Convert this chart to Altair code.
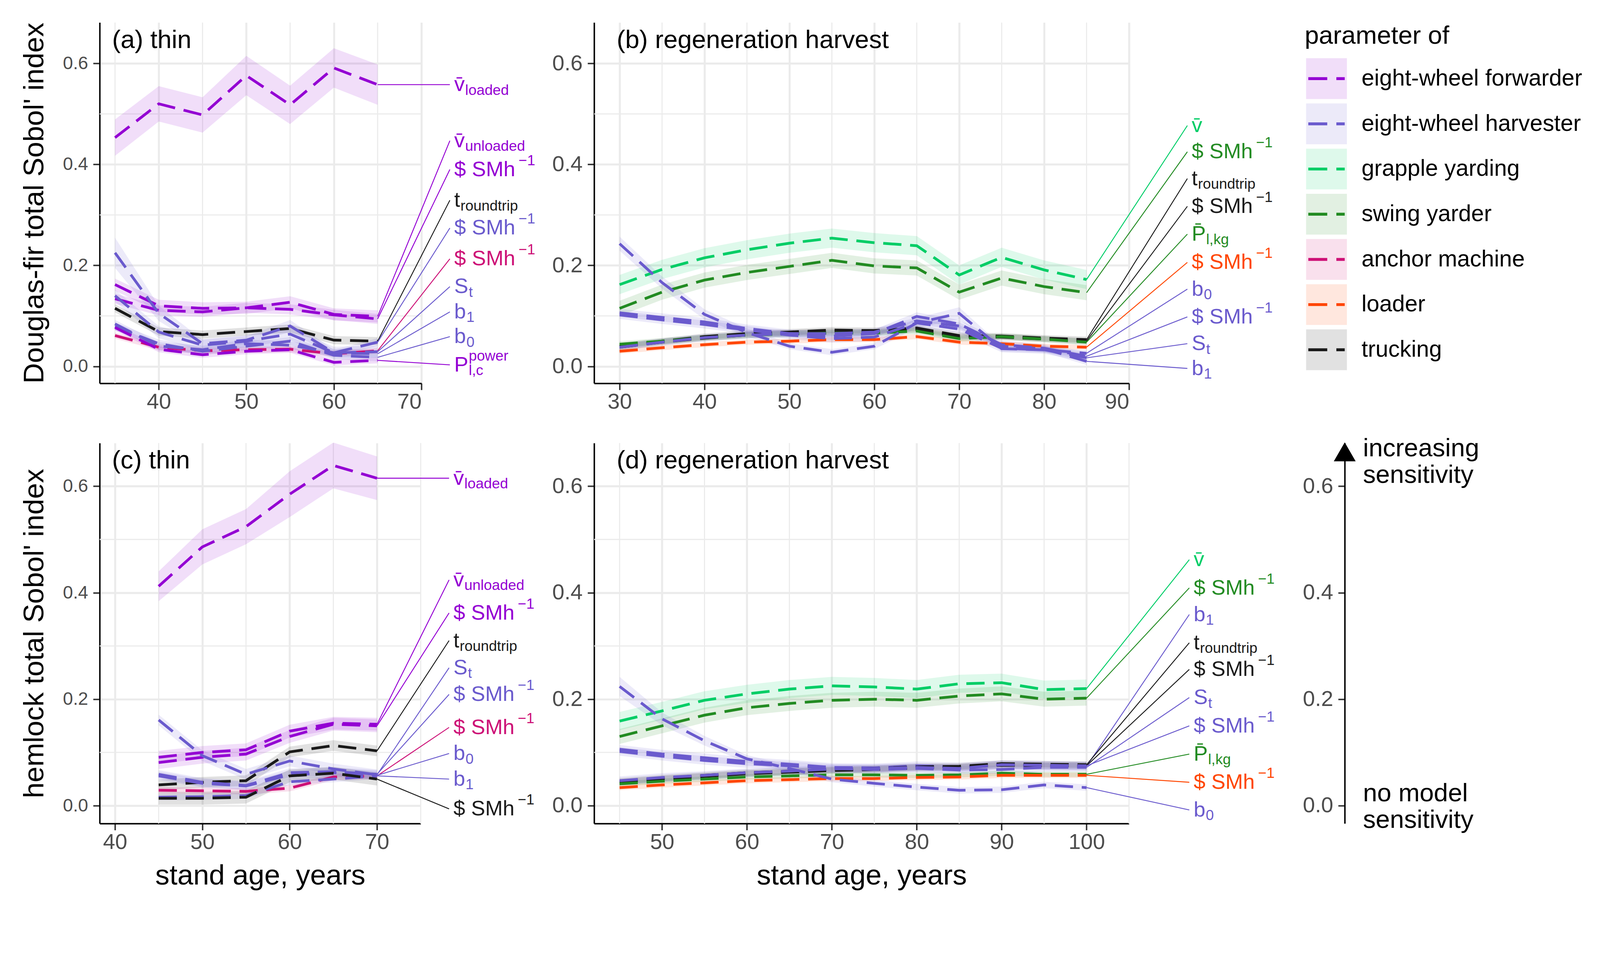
import altair as alt
import pandas as pd

FONT = "Liberation Sans"

MACHINES = ["eight-wheel forwarder", "eight-wheel harvester", "grapple yarding",
            "swing yarder", "anchor machine", "loader", "trucking"]
COLORS = ["#9400D3", "#6A5ACD", "#00CD66", "#228B22", "#CD1076", "#FF4500", "#1A1A1A"]

# ---------------- panel (a) thin, Douglas-fir ----------------
A_X = [35, 40, 45, 50, 55, 60, 65]
A_FW_VLOADED = [0.453, 0.520, 0.498, 0.576, 0.518, 0.591, 0.558]
A_FW_VLOADED_BAND = [0.036, 0.035, 0.035, 0.039, 0.038, 0.039, 0.040]
A_FW_VUNLOADED = [0.162, 0.120, 0.115, 0.116, 0.127, 0.103, 0.099]
A_FW_SMH = [0.134, 0.111, 0.108, 0.116, 0.113, 0.102, 0.094]
A_TR_TROUND = [0.115, 0.069, 0.063, 0.069, 0.075, 0.052, 0.050]
A_HV_SMH = [0.225, 0.105, 0.045, 0.052, 0.080, 0.027, 0.048]
A_HV_SMH_BAND = [0.030, 0.015, 0.008, 0.008, 0.012, 0.006, 0.008]
A_AM_SMH = [0.061, 0.038, 0.031, 0.033, 0.034, 0.025, 0.031]
A_HV_ST = [0.140, 0.068, 0.042, 0.050, 0.064, 0.027, 0.029]
A_HV_B1 = [0.084, 0.040, 0.033, 0.045, 0.042, 0.027, 0.025]
A_HV_B0 = [0.079, 0.045, 0.030, 0.040, 0.050, 0.022, 0.018]
A_FW_PPOWER = [0.077, 0.034, 0.023, 0.030, 0.033, 0.008, 0.012]
A_LABEL_Y = [0.558, 0.447, 0.390, 0.329, 0.274, 0.213, 0.158, 0.108, 0.059, 0.003]

# ---------------- panel (b) regeneration harvest, Douglas-fir ----------------
B_X = [30, 35, 40, 45, 50, 55, 60, 65, 70, 75, 80, 85]
B_GY_VBAR = [0.162, 0.192, 0.215, 0.231, 0.244, 0.254, 0.245, 0.239, 0.181, 0.216, 0.191, 0.172]
B_SY_SMH = [0.115, 0.147, 0.171, 0.186, 0.198, 0.210, 0.199, 0.195, 0.147, 0.175, 0.158, 0.146]
B_TR_TROUND = [0.040, 0.050, 0.059, 0.065, 0.068, 0.072, 0.071, 0.076, 0.061, 0.060, 0.056, 0.053]
B_TR_SMH = [0.038, 0.048, 0.056, 0.062, 0.066, 0.069, 0.068, 0.073, 0.058, 0.058, 0.054, 0.050]
B_SY_PBAR = [0.044, 0.050, 0.057, 0.062, 0.064, 0.066, 0.066, 0.070, 0.055, 0.059, 0.054, 0.048]
B_LO_SMH = [0.030, 0.037, 0.043, 0.048, 0.050, 0.053, 0.053, 0.059, 0.048, 0.045, 0.040, 0.038]
B_HV_B0 = [0.243, 0.166, 0.103, 0.067, 0.040, 0.028, 0.040, 0.086, 0.105, 0.035, 0.033, 0.026]
B_HV_B0_BAND = [0.014, 0.012, 0.010, 0.008, 0.006, 0.006, 0.006, 0.010, 0.012, 0.006, 0.006, 0.006]
B_HV_SMH = [0.106, 0.097, 0.088, 0.075, 0.065, 0.060, 0.065, 0.099, 0.084, 0.043, 0.036, 0.020]
B_HV_ST = [0.102, 0.092, 0.083, 0.072, 0.062, 0.055, 0.058, 0.086, 0.074, 0.036, 0.033, 0.017]
B_HV_B1 = [0.038, 0.048, 0.057, 0.062, 0.065, 0.065, 0.068, 0.090, 0.080, 0.040, 0.035, 0.010]
B_LABEL_Y = [0.477, 0.425, 0.372, 0.317, 0.262, 0.206, 0.153, 0.098, 0.045, -0.004]

# ---------------- panel (c) thin, hemlock ----------------
C_X = [45, 50, 55, 60, 65, 70]
C_FW_VLOADED = [0.412, 0.486, 0.524, 0.585, 0.639, 0.615]
C_FW_VLOADED_BAND = [0.028, 0.033, 0.033, 0.043, 0.043, 0.041]
C_FW_VUNLOADED = [0.091, 0.100, 0.105, 0.140, 0.155, 0.153]
C_FW_SMH = [0.081, 0.091, 0.097, 0.130, 0.153, 0.150]
C_TR_TROUND = [0.039, 0.044, 0.047, 0.101, 0.113, 0.103]
C_HV_ST = [0.161, 0.094, 0.059, 0.084, 0.069, 0.058]
C_HV_SMH = [0.059, 0.044, 0.038, 0.062, 0.064, 0.059]
C_AM_SMH = [0.029, 0.028, 0.027, 0.033, 0.054, 0.056]
C_HV_B0 = [0.056, 0.042, 0.037, 0.058, 0.062, 0.057]
C_HV_B1 = [0.016, 0.017, 0.019, 0.045, 0.050, 0.056]
C_TR_SMH = [0.014, 0.014, 0.016, 0.056, 0.061, 0.050]
C_LABEL_Y = [0.615, 0.424, 0.362, 0.310, 0.259, 0.209, 0.147, 0.098, 0.050, -0.006]

# ---------------- panel (d) regeneration harvest, hemlock ----------------
D_X = [45, 50, 55, 60, 65, 70, 75, 80, 85, 90, 95, 100]
D_GY_VBAR = [0.159, 0.178, 0.198, 0.210, 0.219, 0.225, 0.223, 0.219, 0.229, 0.231, 0.218, 0.220]
D_SY_SMH = [0.130, 0.150, 0.170, 0.184, 0.192, 0.198, 0.200, 0.198, 0.206, 0.210, 0.200, 0.202]
D_HV_B1 = [0.106, 0.097, 0.090, 0.083, 0.078, 0.072, 0.071, 0.075, 0.073, 0.077, 0.075, 0.074]
D_TR_TROUND = [0.046, 0.052, 0.057, 0.062, 0.065, 0.068, 0.070, 0.073, 0.074, 0.079, 0.078, 0.077]
D_TR_SMH = [0.044, 0.050, 0.055, 0.060, 0.063, 0.066, 0.068, 0.071, 0.072, 0.076, 0.075, 0.075]
D_HV_ST = [0.102, 0.093, 0.085, 0.079, 0.075, 0.070, 0.068, 0.070, 0.067, 0.068, 0.072, 0.072]
D_HV_SMH = [0.047, 0.053, 0.057, 0.062, 0.065, 0.069, 0.070, 0.072, 0.070, 0.077, 0.076, 0.075]
D_SY_PBAR = [0.041, 0.046, 0.050, 0.054, 0.056, 0.058, 0.058, 0.057, 0.058, 0.061, 0.059, 0.059]
D_LO_SMH = [0.034, 0.039, 0.043, 0.047, 0.049, 0.051, 0.051, 0.053, 0.054, 0.057, 0.057, 0.057]
D_HV_B0 = [0.224, 0.163, 0.122, 0.088, 0.070, 0.050, 0.042, 0.035, 0.029, 0.030, 0.039, 0.034]
D_HV_B0_BAND = [0.018, 0.012, 0.009, 0.007, 0.006, 0.006, 0.006, 0.006, 0.006, 0.006, 0.006, 0.006]
D_LABEL_Y = [0.462, 0.409, 0.359, 0.306, 0.256, 0.203, 0.150, 0.097, 0.044, -0.008]

FW, HV, GY, SY, AM, LO, TR = MACHINES
VBAR = "v\u0304"
PBAR = "P\u0304"
SMH = "$ SMh"
M1 = "\u22121"

# (id, machine, values, band half-width, main text, subscript, superscript)
A_SERIES = [
    ("a_vl", FW, A_FW_VLOADED, A_FW_VLOADED_BAND, VBAR, "loaded", ""),
    ("a_vu", FW, A_FW_VUNLOADED, 0.012, VBAR, "unloaded", ""),
    ("a_fs", FW, A_FW_SMH, 0.010, SMH, "", M1),
    ("a_tr", TR, A_TR_TROUND, 0.008, "t", "roundtrip", ""),
    ("a_hs", HV, A_HV_SMH, A_HV_SMH_BAND, SMH, "", M1),
    ("a_as", AM, A_AM_SMH, 0.006, SMH, "", M1),
    ("a_st", HV, A_HV_ST, 0.012, "S", "t", ""),
    ("a_b1", HV, A_HV_B1, 0.008, "b", "1", ""),
    ("a_b0", HV, A_HV_B0, 0.008, "b", "0", ""),
    ("a_pp", FW, A_FW_PPOWER, 0.006, "P", "l,c", "power"),
]
B_SERIES = [
    ("b_gv", GY, B_GY_VBAR, 0.019, VBAR, "", ""),
    ("b_ss", SY, B_SY_SMH, 0.015, SMH, "", M1),
    ("b_tr", TR, B_TR_TROUND, 0.006, "t", "roundtrip", ""),
    ("b_ts", TR, B_TR_SMH, 0.006, SMH, "", M1),
    ("b_sp", SY, B_SY_PBAR, 0.006, PBAR, "l,kg", ""),
    ("b_ls", LO, B_LO_SMH, 0.005, SMH, "", M1),
    ("b_b0", HV, B_HV_B0, B_HV_B0_BAND, "b", "0", ""),
    ("b_hs", HV, B_HV_SMH, 0.008, SMH, "", M1),
    ("b_st", HV, B_HV_ST, 0.008, "S", "t", ""),
    ("b_b1", HV, B_HV_B1, 0.007, "b", "1", ""),
]
C_SERIES = [
    ("c_vl", FW, C_FW_VLOADED, C_FW_VLOADED_BAND, VBAR, "loaded", ""),
    ("c_vu", FW, C_FW_VUNLOADED, 0.012, VBAR, "unloaded", ""),
    ("c_fs", FW, C_FW_SMH, 0.012, SMH, "", M1),
    ("c_tr", TR, C_TR_TROUND, 0.010, "t", "roundtrip", ""),
    ("c_st", HV, C_HV_ST, 0.010, "S", "t", ""),
    ("c_hs", HV, C_HV_SMH, 0.008, SMH, "", M1),
    ("c_as", AM, C_AM_SMH, 0.006, SMH, "", M1),
    ("c_b0", HV, C_HV_B0, 0.008, "b", "0", ""),
    ("c_b1", HV, C_HV_B1, 0.006, "b", "1", ""),
    ("c_ts", TR, C_TR_SMH, 0.012, SMH, "", M1),
]
D_SERIES = [
    ("d_gv", GY, D_GY_VBAR, 0.017, VBAR, "", ""),
    ("d_ss", SY, D_SY_SMH, 0.014, SMH, "", M1),
    ("d_b1", HV, D_HV_B1, 0.008, "b", "1", ""),
    ("d_tr", TR, D_TR_TROUND, 0.006, "t", "roundtrip", ""),
    ("d_ts", TR, D_TR_SMH, 0.006, SMH, "", M1),
    ("d_st", HV, D_HV_ST, 0.008, "S", "t", ""),
    ("d_hs", HV, D_HV_SMH, 0.008, SMH, "", M1),
    ("d_sp", SY, D_SY_PBAR, 0.005, PBAR, "l,kg", ""),
    ("d_ls", LO, D_LO_SMH, 0.005, SMH, "", M1),
    ("d_b0", HV, D_HV_B0, D_HV_B0_BAND, "b", "0", ""),
]

# approximate Arial/Liberation Sans advance widths (em) for placing sub/superscripts
CHAR_W = {"$": 0.556, " ": 0.278, "S": 0.667, "M": 0.833, "h": 0.556, "v": 0.5,
          "t": 0.278, "b": 0.556, "P": 0.667}
LABEL_FS = 58
SUB_FS = 40
YDOM = [-0.0335, 0.681]

color_enc = alt.Color("machine:N", scale=alt.Scale(domain=MACHINES, range=COLORS), legend=None)


def text_width(s, fs):
    return sum(CHAR_W.get(ch, 0.0) for ch in s) * fs


def make_panel(X, series, label_ys, xdom, xticks, xminor, width, height, tag, tag_x,
               ytitle, xtitle, label_x, ylab_fs=60):
    ppu = width / (xdom[1] - xdom[0])
    rows, labs = [], []
    for (sid, mach, vals, band, main, sub, sup), ly in zip(series, label_ys):
        bands = band if isinstance(band, list) else [band] * len(vals)
        for xi, yi, bi in zip(X, vals, bands):
            rows.append(dict(series=sid, machine=mach, x=xi, y=yi, lo=yi - bi, hi=yi + bi))
        w = text_width(main, LABEL_FS)
        gap = 9 if main == SMH else 1
        labs.append(dict(series=sid, machine=mach, x0=X[-1], y0=vals[-1], xl=label_x, yl=ly,
                         main=main, sub=sub, sup=sup,
                         xs=label_x + (12 + w + 1) / ppu,
                         xp=label_x + (12 + w + gap) / ppu))
    df = pd.DataFrame(rows)
    dl = pd.DataFrame(labs)

    xscale = alt.Scale(domain=xdom, nice=False, zero=False)
    yscale = alt.Scale(domain=YDOM, nice=False, zero=False)
    xaxis = alt.Axis(values=xticks, grid=True, gridColor="#ebebeb", gridWidth=5.5,
                     domainColor="black", domainWidth=4, tickColor="#333333", tickWidth=4,
                     tickSize=18, labelFontSize=60, labelColor="#4d4d4d", labelPadding=4,
                     title=xtitle, titleFontSize=78, titleFontWeight="normal", titleColor="black",
                     titlePadding=24)
    # keep label width + title padding constant so the title keeps its place
    ytitle_pad = 24 + 1.39 * (60 - ylab_fs)
    yaxis = alt.Axis(values=[0, 0.2, 0.4, 0.6], format=".1f", grid=True, gridColor="#ebebeb",
                     gridWidth=5.5, domainColor="black", domainWidth=4, tickColor="#333333",
                     tickWidth=4, tickSize=18, labelFontSize=ylab_fs, labelColor="#4d4d4d",
                     labelPadding=14, title=ytitle, titleFontSize=78, titleFontWeight="normal",
                     titleColor="black", titlePadding=ytitle_pad)

    def X_(f):
        return alt.X(f, scale=xscale, axis=xaxis)

    def Y_(f):
        return alt.Y(f, scale=yscale, axis=yaxis)

    minor_v = alt.Chart(pd.DataFrame({"gx": xminor})).mark_rule(
        color="#ebebeb", strokeWidth=3).encode(x=X_("gx:Q"))
    minor_h = alt.Chart(pd.DataFrame({"gy": [0.1, 0.3, 0.5]})).mark_rule(
        color="#ebebeb", strokeWidth=3).encode(y=Y_("gy:Q"))
    base = alt.Chart(df)
    bands_l = base.mark_area(opacity=0.13).encode(
        x=X_("x:Q"), y=Y_("lo:Q"), y2="hi:Q", color=color_enc, detail="series:N")
    lines_l = base.mark_line(strokeWidth=7.5, strokeDash=[50, 24]).encode(
        x=X_("x:Q"), y=Y_("y:Q"), color=color_enc, detail="series:N")
    lb = alt.Chart(dl)
    leaders = lb.mark_rule(strokeWidth=2.5).encode(
        x=X_("x0:Q"), y=Y_("y0:Q"), x2="xl:Q", y2="yl:Q", color=color_enc)
    t_main = lb.mark_text(align="left", baseline="alphabetic", dx=12, dy=18,
                          fontSize=LABEL_FS, font=FONT).encode(
        x=X_("xl:Q"), y=Y_("yl:Q"), text="main:N", color=color_enc)
    t_sub = lb.mark_text(align="left", baseline="alphabetic", dy=28,
                         fontSize=SUB_FS, font=FONT).encode(
        x=X_("xs:Q"), y=Y_("yl:Q"), text="sub:N", color=color_enc)
    t_sup = lb.mark_text(align="left", baseline="alphabetic", dy=-12,
                         fontSize=SUB_FS, font=FONT).encode(
        x=X_("xp:Q"), y=Y_("yl:Q"), text="sup:N", color=color_enc)
    tag_px = (tag_x - xdom[0]) * ppu - 8
    tag_l = alt.Chart(pd.DataFrame({"t": [tag]})).mark_text(
        align="left", baseline="middle", fontSize=70, font=FONT, color="black").encode(
        x=alt.value(tag_px), y=alt.value(49), text="t:N")
    return alt.layer(minor_v, minor_h, bands_l, lines_l, leaders, t_main, t_sub, t_sup,
                     tag_l).properties(width=width, height=height)


pa = make_panel(A_X, A_SERIES, A_LABEL_Y, [33.25, 70], [40, 50, 60, 70], [35, 45, 55, 65],
                883, 990, "(a) thin", 35, "Douglas-fir total Sobol' index", None, 73.25,
                ylab_fs=50)
pb = make_panel(B_X, B_SERIES, B_LABEL_Y, [27, 90], [30, 40, 50, 60, 70, 80, 90],
                [35, 45, 55, 65, 75, 85], 1468, 990, "(b) regeneration harvest", 30, None, None,
                96.87)
pc = make_panel(C_X, C_SERIES, C_LABEL_Y, [38.25, 75], [40, 50, 60, 70], [45, 55, 65, 75],
                881, 1044, "(c) thin", 40, "hemlock total Sobol' index", "stand age, years",
                78.25, ylab_fs=50)
pd_ = make_panel(D_X, D_SERIES, D_LABEL_Y, [42, 105], [50, 60, 70, 80, 90, 100],
                 [45, 55, 65, 75, 85, 95, 105], 1468, 1044, "(d) regeneration harvest", 45,
                 None, "stand age, years", 112.1)

# ---------------- legend panel ----------------
LEG_X0 = 12
leg_df = pd.DataFrame({"machine": MACHINES, "idx": list(range(len(MACHINES)))})
yleg = alt.Y("idx:Q", scale=alt.Scale(domain=[-1.242, 6.742], nice=False, zero=False,
                                      reverse=True), axis=None)
lbase = alt.Chart(leg_df)
leg_box = lbase.mark_point(shape="square", filled=True, size=12544, opacity=0.13,
                           strokeWidth=0).encode(x=alt.value(LEG_X0 + 56), y=yleg, color=color_enc)
leg_line = lbase.mark_rule(strokeWidth=8, strokeDash=[52, 25]).encode(
    x=alt.value(LEG_X0 + 6), x2=alt.value(LEG_X0 + 106), y=yleg, color=color_enc)
leg_txt = lbase.mark_text(align="left", baseline="middle", fontSize=63, font=FONT,
                          color="black").encode(x=alt.value(LEG_X0 + 152), y=yleg,
                                                text="machine:N")
leg_title = alt.Chart(pd.DataFrame({"t": ["parameter of"]})).mark_text(
    align="left", baseline="middle", fontSize=70, font=FONT, color="black").encode(
    x=alt.value(LEG_X0 - 4), y=alt.value(37), text="t:N")
legend = alt.layer(leg_box, leg_line, leg_txt, leg_title).properties(width=200, height=990)

# ---------------- sensitivity arrow panel ----------------
ARR_X = 118
ARROW_TICKS = [0.0, 0.2, 0.4, 0.6]
arr_axis = alt.Axis(values=ARROW_TICKS, format=".1f", grid=False, offset=-ARR_X,
                    domainColor="black", domainWidth=4, tickColor="#333333", tickWidth=4,
                    tickSize=18, labelFontSize=60, labelColor="#4d4d4d", labelPadding=14,
                    title=None)
arr_base = alt.Chart(pd.DataFrame({"v": ARROW_TICKS})).mark_point(opacity=0).encode(
    x=alt.value(ARR_X),
    y=alt.Y("v:Q", scale=alt.Scale(domain=YDOM, nice=False, zero=False), axis=arr_axis))
one = pd.DataFrame({"a": [0]})
arr_head = alt.Chart(one).mark_point(shape="triangle-up", filled=True, size=3600,
                                     color="black", opacity=1, strokeWidth=0).encode(
    x=alt.value(ARR_X), y=alt.value(24))
ARROW_TEXT = [("increasing", 15), ("sensitivity", 88), ("no model", 962), ("sensitivity", 1035)]
arr_txt = [alt.Chart(pd.DataFrame({"t": [t]})).mark_text(
    align="left", baseline="middle", fontSize=70, font=FONT, color="black").encode(
    x=alt.value(ARR_X + 50), y=alt.value(yy), text="t:N") for t, yy in ARROW_TEXT]
arrow = alt.layer(arr_base, arr_head, *arr_txt).properties(width=200, height=1044)

chart = alt.concat(pa, pb, legend, pc, pd_, arrow, columns=3,
                   spacing={"row": 164, "column": 474}, bounds="flush").properties(
    padding={"left": 47, "top": -35, "right": 40, "bottom": 45},
    background="white",
).configure_view(stroke=None).configure_axis(labelFont=FONT, titleFont=FONT).configure_text(font=FONT)

chart.save("out.html", embed_options={"renderer": "svg", "actions": False})
